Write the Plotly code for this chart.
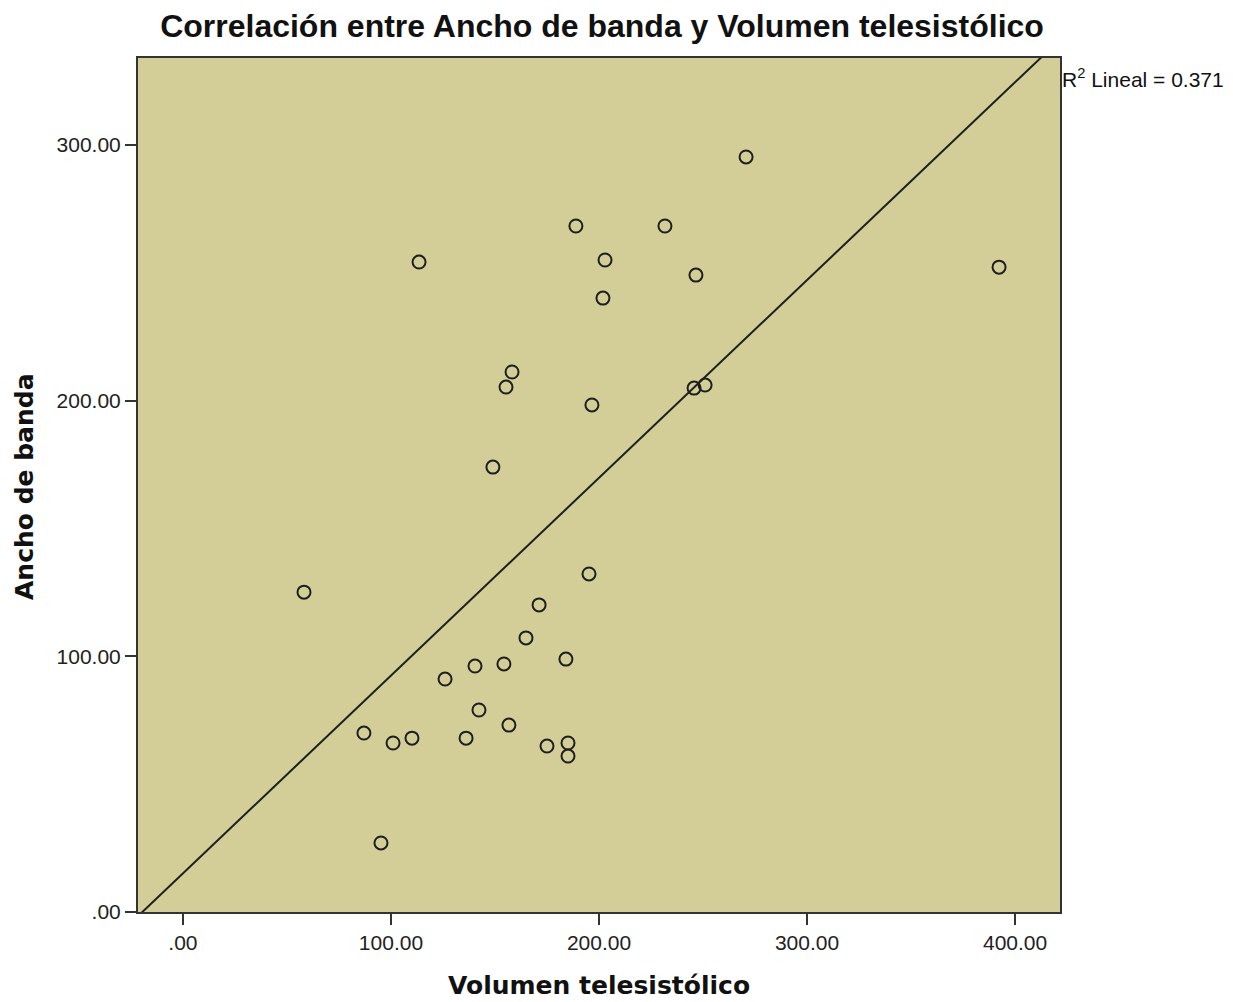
import numpy as np
import plotly.graph_objects as go

# Volumen telesistólico (x) vs Ancho de banda (y), one pair per patient
volumen = [270.7, 188.9, 231.7, 113.5, 202.9, 246.6, 392.3, 201.9, 158.2, 155.3,
           196.6, 245.7, 251.0, 149.0, 58.2, 195.2, 171.2, 164.9, 184.1, 140.4,
           154.3, 126.0, 142.3, 87.0, 101.0, 110.1, 136.1, 156.7, 175.0, 185.1,
           185.1, 95.2]
ancho = [295.3, 268.3, 268.3, 254.2, 255.0, 249.1, 252.2, 240.1, 211.2, 205.3,
         198.3, 204.9, 206.1, 174.0, 125.1, 132.2, 120.1, 107.2, 98.9, 96.2,
         97.0, 91.1, 79.0, 70.0, 66.1, 68.0, 68.0, 73.1, 64.9, 66.1,
         61.0, 27.0]

x_ticks = [0, 100, 200, 300, 400]
x_ticktext = [".00", "100.00", "200.00", "300.00", "400.00"]
y_ticks = [0, 100, 200, 300]
y_ticktext = [".00", "100.00", "200.00", "300.00"]

x_range = [-21.6, 421.6]
y_range = [0, 334]
r2_text = "0.371"

# Least-squares fit line across the full x axis
slope, intercept = np.polyfit(volumen, ancho, 1)
fit_x = np.array(x_range)
fit_y = slope * fit_x + intercept

dark = "#1e1e1e"
bg = "#D3CE97"

fig = go.Figure()
fig.add_trace(go.Scatter(
    x=fit_x, y=fit_y, mode="lines",
    line=dict(color=dark, width=2), hoverinfo="skip", showlegend=False,
))
fig.add_trace(go.Scatter(
    x=volumen, y=ancho, mode="markers",
    marker=dict(symbol="circle-open", size=13, color=dark, line=dict(width=2, color=dark)),
    showlegend=False,
))

axis_common = dict(
    showgrid=False, zeroline=False, showline=True, mirror=True,
    linecolor="#333333", linewidth=2,
    ticks="outside", ticklen=11, tickwidth=2, tickcolor="#333333",
    tickfont=dict(family="Liberation Sans, Arial, sans-serif", size=21, color="#222222"),
)

fig.update_layout(
    width=1233, height=1002,
    margin=dict(l=138, r=173, t=58, b=90),
    paper_bgcolor="white", plot_bgcolor=bg,
    title=dict(
        text="<b>Correlación entre Ancho de banda y Volumen telesistólico</b>",
        x=602 / 1233, xanchor="center", xref="container",
        y=1 - 26 / 1002, yanchor="middle", yref="container",
        font=dict(family="Liberation Sans Narrow, Arial Narrow, Liberation Sans, sans-serif",
                  size=32, color="#111111"),
    ),
    xaxis=dict(range=x_range, tickvals=x_ticks, ticktext=x_ticktext, **axis_common),
    yaxis=dict(range=y_range, tickvals=y_ticks, ticktext=y_ticktext, **axis_common),
    annotations=[
        dict(text="<b>Volumen telesistólico</b>", xref="paper", yref="paper",
             x=0.5, y=(912 - 985) / 854, xanchor="center", yanchor="middle", showarrow=False,
             font=dict(family="DejaVu Sans, Verdana, sans-serif", size=25, color="#111111")),
        dict(text="<b>Ancho de banda</b>", xref="paper", yref="paper",
             x=(24 - 138) / 922, y=(912 - 487) / 854, xanchor="center", yanchor="middle",
             textangle=-90, showarrow=False,
             font=dict(family="DejaVu Sans, Verdana, sans-serif", size=25, color="#111111")),
        dict(text="R<sup>2</sup> Lineal = " + r2_text, xref="paper", yref="paper",
             x=1, y=(912 - 78) / 854, xanchor="left", yanchor="middle", showarrow=False,
             font=dict(family="Liberation Sans, Arial, sans-serif", size=21, color="#111111")),
    ],
)

fig.write_html("out.html")
